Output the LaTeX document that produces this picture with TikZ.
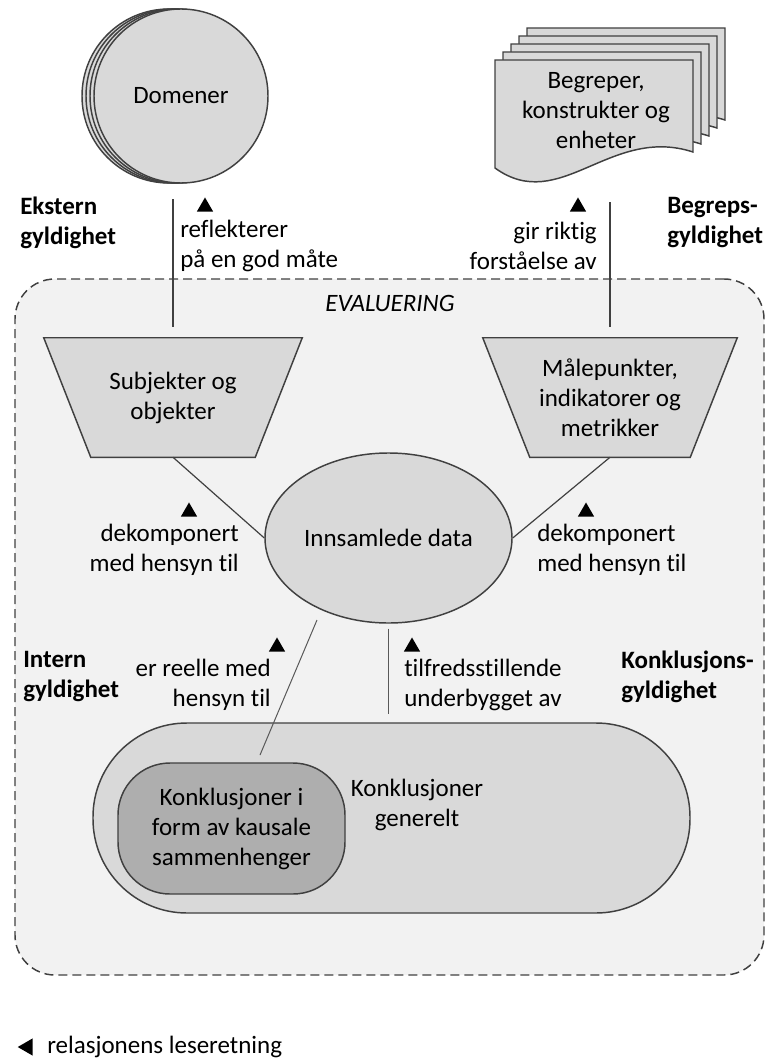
\documentclass[tikz,border=0pt]{standalone}
\usepackage{fontspec}
\setmainfont{Carlito}[Ligatures=NoCommon]
\usetikzlibrary{shapes.geometric,calc}
\definecolor{bgfill}{HTML}{F2F2F2}
\definecolor{shapefill}{HTML}{D9D9D9}
\definecolor{darkfill}{HTML}{AEAEAE}
\definecolor{edge}{HTML}{404040}
\definecolor{softedge}{HTML}{595959}
\newcommand{\txt}{\fontsize{18.75}{22.5}\selectfont}
\def\px{0.75pt}
\tikzset{
  outline/.style={draw=edge, line width=1.1pt},
  blob/.style={outline, fill=shapefill},
  txtlabel/.style={inner sep=0, font=\txt},
  boldlabel/.style={inner sep=0, font=\txt\bfseries},
  tri/.style={regular polygon, regular polygon sides=3, fill=black, inner sep=0, minimum size=19*\px},
  heavylink/.style={draw=edge, line width=1.5pt},
  midlink/.style={draw=edge, line width=0.9pt},
  lightlink/.style={draw=softedge, line width=0.75pt},
  frame/.style={draw=edge, line width=1.1pt, dash pattern=on 6.75pt off 3.75pt, fill=bgfill, rounded corners=40*\px},
}
\begin{document}
\begin{tikzpicture}[x=0.75pt, y=-0.75pt]
\useasboundingbox (0,0) rectangle (766,1059);

% evaluation frame
\node[frame, minimum width=749*\px, minimum height=696*\px, inner sep=0] (eval) at (389.5,627) {};
\node[txtlabel, font=\txt\itshape] (evallabel) at (390,303) {EVALUERING};

% stacked domains
\foreach \k in {3,2,1}{
  \draw[blob] (181-4*\k,96) circle[radius=87];
}
\node[blob, circle, minimum size=174*\px, inner sep=0, font=\txt] (dom) at (181,96) {Domener};

% stacked documents
\foreach \k in {4,3,2,1}{
  \draw[blob, shift={(8*\k,-8*\k)}] (495,168) -- (495,60) -- (693,60) -- (693,152)
    .. controls (610,125) and (560,215) .. (495,168) -- cycle;
}
\draw[blob] (495,168) -- (495,60) -- (693,60) -- (693,152)
    .. controls (610,125) and (560,215) .. (495,168) -- cycle;
\node[inner sep=0, minimum width=198*\px, minimum height=123*\px] (docs) at (594,121.5) {};
\node[txtlabel, align=center] (docstext) at (596,111) {Begreper,\\konstrukter og\\enheter};

% validity labels
\node[boldlabel, anchor=west, align=left] (ext) at (20,223) {Ekstern\\gyldighet};
\node[boldlabel, anchor=west, align=left] (begr) at (667,223) {Begreps-\\gyldighet};
\node[boldlabel, anchor=west, align=left] (intern) at (23,677) {Intern\\gyldighet};
\node[boldlabel, anchor=west, align=left] (konkl) at (621,677) {Konklusjons-\\gyldighet};

% relation labels
\node[txtlabel, anchor=west, align=left] (refl) at (180,246) {reflekterer\\på en god måte};
\node[txtlabel, anchor=east, align=right] (gir) at (597,246) {gir riktig\\forståelse av};
\node[txtlabel, anchor=east, align=right] (dec1) at (239,550) {dekomponert\\med hensyn til};
\node[txtlabel, anchor=west, align=left] (dec2) at (537,550) {dekomponert\\med hensyn til};
\node[txtlabel, anchor=east, align=right] (reell) at (271,685) {er reelle med\\hensyn til};
\node[txtlabel, anchor=west, align=left] (tilf) at (404,685) {tilfredsstillende\\underbygget av};

% reading direction markers
\node[tri, anchor=south] (t1) at (205,212) {};
\node[tri, anchor=south] (t2) at (578,212) {};
\node[tri, anchor=south] (t3) at (189,517) {};
\node[tri, anchor=south] (t4) at (586,517) {};
\node[tri, anchor=south] (t5) at (277,652) {};
\node[tri, anchor=south] (t6) at (412,652) {};

% trapezoids
\node[inner sep=0, minimum width=164*\px, minimum height=119*\px] (subj) at (173,397.5) {};
\draw[blob] (subj.south west) -- (subj.south east) -- ($(subj.north east)+(47,0)$)
  -- ($(subj.north west)+(-47,0)$) -- cycle;
\node[txtlabel, align=center] (subjtext) at (subj.center) {Subjekter og\\objekter};

\node[inner sep=0, minimum width=160*\px, minimum height=119*\px] (meter) at (610,397.5) {};
\draw[blob] (meter.south west) -- (meter.south east) -- ($(meter.north east)+(47,0)$)
  -- ($(meter.north west)+(-47,0)$) -- cycle;
\node[txtlabel, align=center] (metertext) at (meter.center) {Målepunkter,\\indikatorer og\\metrikker};

% collected data
\node[blob, ellipse, minimum width=247*\px, minimum height=170*\px, inner sep=0, font=\txt] (data) at (388.5,538) {Innsamlede data};

% conclusions
\node[blob, rounded corners=94*\px, minimum width=597*\px, minimum height=190*\px, inner sep=0] (outer) at (391.5,818) {};
\node[txtlabel, align=center] (gentext) at (417,805) {Konklusjoner\\generelt};
\node[outline, fill=darkfill, rounded corners=52*\px, minimum width=227*\px, minimum height=131*\px, inner sep=0, align=center, font=\txt] (causal) at (231.5,828.5) {Konklusjoner i\\form av kausale\\sammenhenger};

% connectors
\draw[heavylink, shorten <=11*\px, shorten >=15*\px] (subj.north) -- (subj.north |- dom.south);
\draw[heavylink, shorten <=11*\px, shorten >=19*\px] (meter.north) -- (meter.north |- docs.south);
\draw[midlink] (subj.south) -- (data.west);
\draw[midlink] (meter.south) -- (data.east);
\coordinate (realtop) at (317,620);
\coordinate (realfoot) at (260,755);
\draw[lightlink] (realtop) -- (realfoot);
\draw[lightlink, shorten <=5*\px, shorten >=8*\px] (data.south) -- (data.south |- outer.north);

% legend
\node[regular polygon, regular polygon sides=3, regular polygon rotate=90, fill=black, inner sep=0, minimum size=20*\px, anchor=east] (legtri) at (33,1047) {};
\node[txtlabel, anchor=west] (legtext) at (47,1047) {relasjonens leseretning};
\end{tikzpicture}
\end{document}
